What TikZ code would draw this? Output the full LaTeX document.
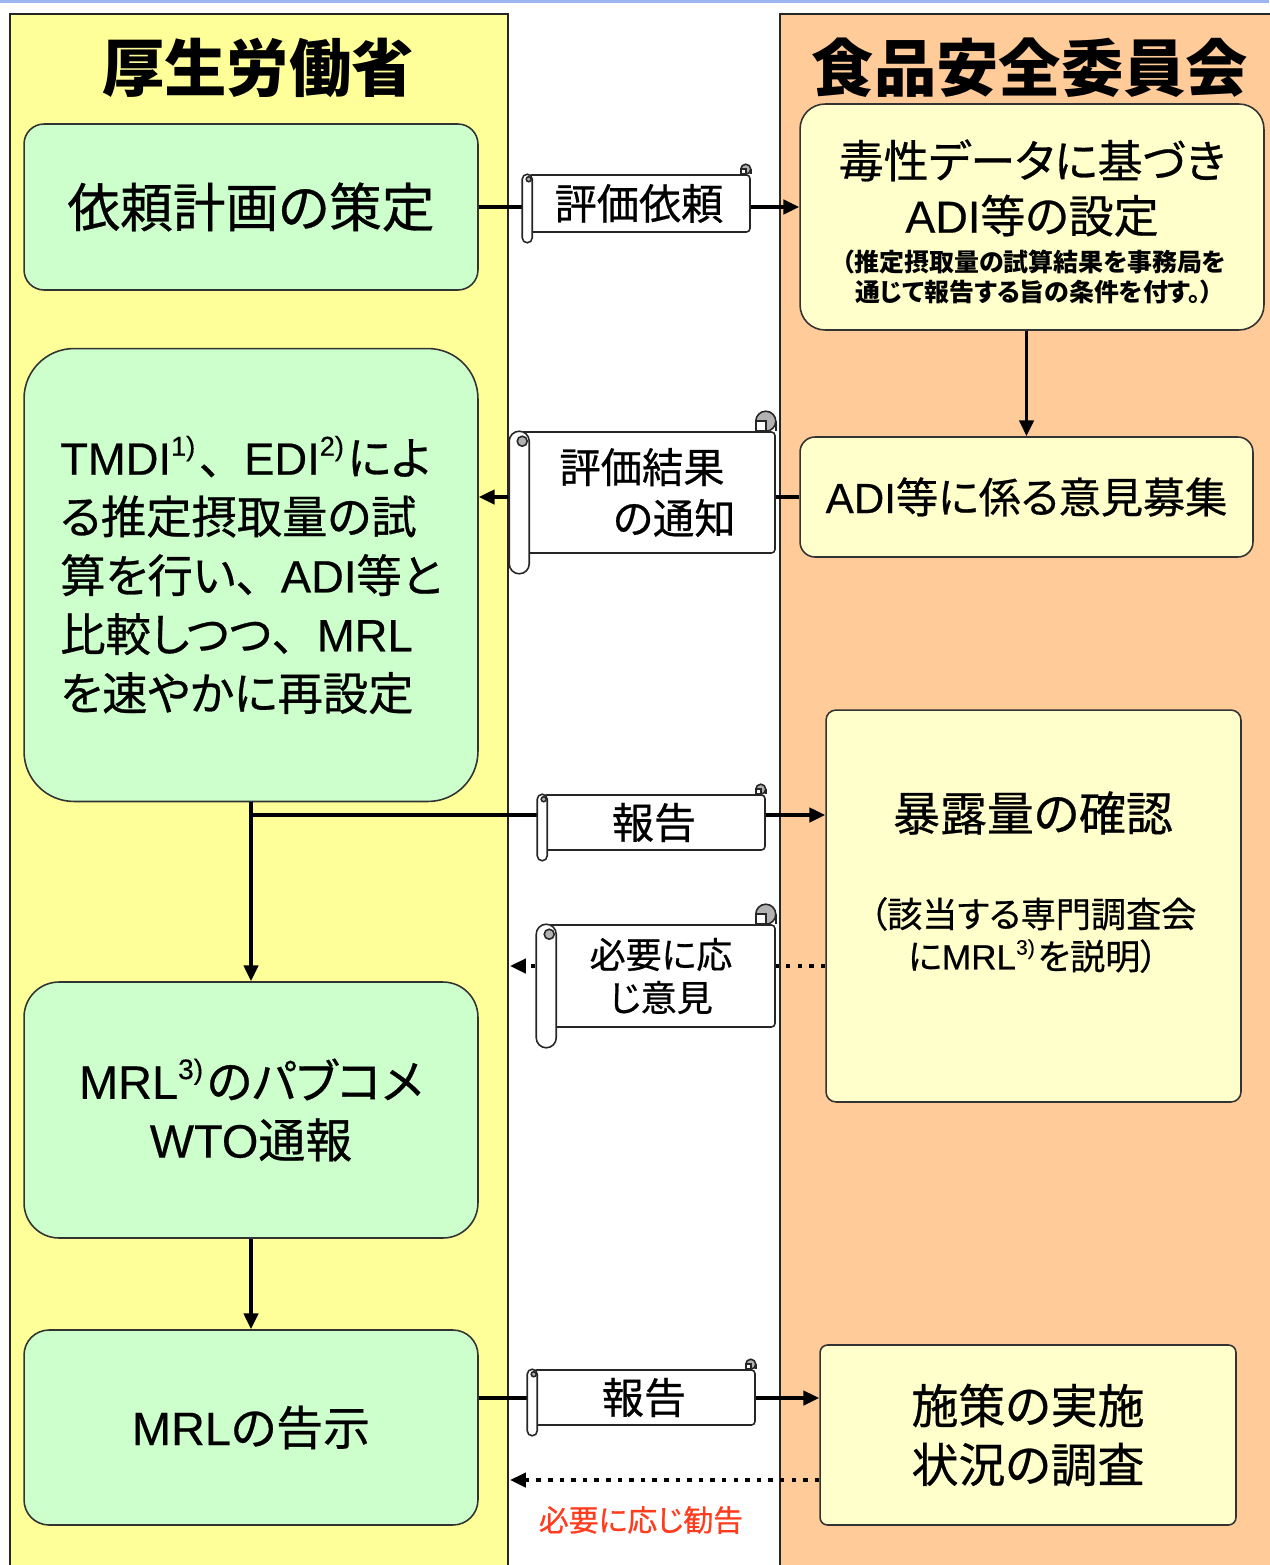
\documentclass[tikz,border=0pt]{standalone}
\usepackage{fontspec}
\setmainfont{Noto Sans CJK JP}[RawFeature=+palt, FakeBold=0.6]
\newfontfamily\headjp{Noto Sans CJK JP}[RawFeature=+palt]
\newfontfamily\widejp{Noto Sans CJK JP}[FakeBold=0.6]
\newfontfamily\arialfont{Liberation Sans}[FakeBold=0.4]
\usetikzlibrary{arrows.meta,
                calc,
                positioning
            }

\definecolor{lanemhlw}{HTML}{FFFF99}
\definecolor{lanefsc}{HTML}{FFCC99}
\definecolor{boxgreen}{HTML}{CCFFCC}
\definecolor{boxcream}{HTML}{FFFFCC}
\definecolor{topblue}{HTML}{9DB6F2}
\definecolor{advicered}{HTML}{FF3C1E}

% Latin words, note marks and the ideographic comma
\newcommand{\lat}[1]{{\arialfont #1}}
\newcommand{\noteref}[1]{\raisebox{0.42em}{\arialfont\fontsize{0.6em}{0.6em}\selectfont #1}\kern0.08em}
\newcommand{\jpcomma}{{\widejp 、}}

\tikzset{
    lane/.style={draw=black!85, line width=1.1pt, inner sep=0pt},
    lanetitle/.style={font=\fontsize{35.5}{40}\selectfont\headjp\bfseries},
    greenbox/.style={draw=black!80, line width=0.9pt, fill=boxgreen, inner sep=0pt, align=center},
    creambox/.style={draw=black!80, line width=0.9pt, fill=boxcream, inner sep=0pt, align=center},
    boxtext/.style={font=\fontsize{26.7}{33.5}\selectfont},
    scrollline/.style={draw=black!85, line width=0.9pt},
    scrollbody/.style={scrollline, fill=white, rounded corners=2pt, inner sep=0pt, align=center},
    flow/.style={line width=2.2pt, -{Triangle[length=9pt, width=8pt]}},
    dotflow/.style={flow, dash pattern=on 2.6pt off 4pt}
}

% rolled ends of a scroll: #1 = body node, #2 = roll radius (px)
\newcommand{\scrollends}[2]{%
    \draw[scrollline, fill=white, rounded corners=#2*0.569pt]
        ($(#1.north west)+(-#2,0)$) rectangle ($(#1.south west)+(#2,2*#2)$);
    \draw[scrollline, fill=black!30] ($(#1.north west)+(0.3*#2,#2)$) circle[radius=0.5*#2*0.569pt];
    \draw[scrollline] (#1.north east) -- ($(#1.north east)+(0,-#2)$);
    \draw[scrollline, fill=black!30] ($(#1.north east)+(-#2,-#2)$) circle[radius=#2*0.569pt];
    \draw[scrollline, fill=white] ($(#1.north east)+(-2*#2,-#2)$) rectangle ($(#1.north east)+(-#2,0)$);
}

\begin{document}
\begin{tikzpicture}[x=0.02cm, y=-0.02cm]
    \useasboundingbox (0,0) rectangle (1269,1565);
    \fill[topblue] (0,0) rectangle (1269,3);

    % Lanes
    \node (mhlw) [lane, fill=lanemhlw, minimum width=9.96cm, minimum height=31.4cm] at (259,799) {};
    \node (fsc) [lane, fill=lanefsc, minimum width=10cm, minimum height=31.4cm] at (1030,799) {};
    \node (mhlwtitle) [lanetitle] at (258,68) {厚生労働省};
    \node (fsctitle) [lanetitle] at (1030,68) {食品安全委員会};

    % Ministry side
    \node (plan) [greenbox, rounded corners=0.4cm, minimum width=9.08cm, minimum height=3.32cm,
                  font=\fontsize{30}{36}\selectfont] at (251,207) {依頼計画の策定};
    \node (tmdi) [greenbox, align=left, rounded corners=1cm, minimum width=9.08cm, minimum height=9.06cm,
                  font=\fontsize{25.8}{33.5}\selectfont] at (251,575)
        {\lat{TMDI}\noteref{1)}\jpcomma\lat{EDI}\noteref{2)}によ\\る推定摂取量の試\\算を行い\jpcomma\lat{ADI}等と\\比較しつつ\jpcomma\lat{MRL}\\を速やかに再設定};
    \node (mrlpc) [greenbox, boxtext, rounded corners=0.7cm, minimum width=9.08cm, minimum height=5.12cm] at (251,1110)
        {\lat{MRL}\noteref{3)}のパブコメ\\\lat{WTO}通報};
    \node (notice) [greenbox, boxtext, rounded corners=0.5cm, minimum width=9.08cm, minimum height=3.9cm] at (251,1427.5)
        {\lat{MRL}の告示};

    % Commission side
    \node (adiset) [creambox, rounded corners=0.5cm, minimum width=9.28cm, minimum height=4.52cm] at (1032,217) {};
    \node (adisettext) [align=center, font=\fontsize{25.6}{31.3}\selectfont] at (1032,188)
        {毒性データに基づき\\\lat{ADI}等の設定};
    \node (adisetnote) [align=center, font=\fontsize{14.2}{17}\selectfont\headjp\bfseries] at (1034,277)
        {（推定摂取量の試算結果を事務局を\\通じて報告する旨の条件を付す。）};
    \node (adipc) [creambox, rounded corners=0.3cm, minimum width=9.06cm, minimum height=2.4cm,
                   font=\fontsize{24}{30}\selectfont] at (1026.5,497) {\lat{ADI}等に係る意見募集};
    \node (expo) [creambox, rounded corners=0.2cm, minimum width=8.3cm, minimum height=7.84cm] at (1033.5,906) {};
    \node (expotitle) [boxtext] at (1033,813) {暴露量の確認};
    \node (expotext) [align=center, font=\fontsize{20}{24}\selectfont] at (1033,935)
        {（該当する専門調査会\\に\lat{MRL}\noteref{3)}を説明）};
    \node (survey) [creambox, boxtext, rounded corners=0.15cm, minimum width=8.32cm, minimum height=3.6cm] at (1028,1435)
        {施策の実施\\状況の調査};

    % Connectors
    \coordinate (split) at (251,815);
    \coordinate (advice1) at (510,966);
    \coordinate (advice2) at (510,1480);
    \draw[flow] (plan.east) -- (adiset.west |- plan.east);
    \draw[flow] (adiset.south -| adipc.north) -- (adipc.north);
    \draw[flow] (adipc.west) -- (tmdi.east |- adipc.west);
    \draw[flow] (tmdi.south) -- (mrlpc.north);
    \draw[flow] (split) -- (expo.west |- split);
    \draw[dotflow] (expo.west |- advice1) -- (advice1);
    \draw[flow] (mrlpc.south) -- (notice.north);
    \draw[flow] (notice.east |- 0,1398) -- (survey.west |- 0,1398);
    \draw[dotflow] (survey.west |- advice2) -- (advice2);
    \node (advicetext) [text=advicered, font=\fontsize{17}{20}\selectfont] at (641,1520) {必要に応じ勧告};

    % Scrolls
    \node (request) [scrollbody, minimum width=4.44cm, minimum height=1.14cm,
                     font=\fontsize{24}{30}\selectfont] at (639,203.5) {評価依頼};
    \scrollends{request}{5}
    \node (result) [scrollbody, align=left, minimum width=5.1cm, minimum height=2.42cm,
                    font=\fontsize{23.5}{29}\selectfont] at (647.5,492.5) {評価結果\\\hspace{1.3em}の通知};
    \scrollends{result}{10}
    \node (report1) [scrollbody, minimum width=4.44cm, minimum height=1.1cm,
                     font=\fontsize{24}{30}\selectfont] at (654,822.5) {報告};
    \scrollends{report1}{5}
    \node (opinion) [scrollbody, minimum width=4.56cm, minimum height=2.04cm,
                     font=\fontsize{20.5}{24.5}\selectfont] at (661,976) {必要に応\\じ意見};
    \scrollends{opinion}{10}
    \node (report2) [scrollbody, minimum width=4.44cm, minimum height=1.1cm,
                     font=\fontsize{24}{30}\selectfont] at (644,1397.5) {報告};
    \scrollends{report2}{5}
\end{tikzpicture}
\end{document}
